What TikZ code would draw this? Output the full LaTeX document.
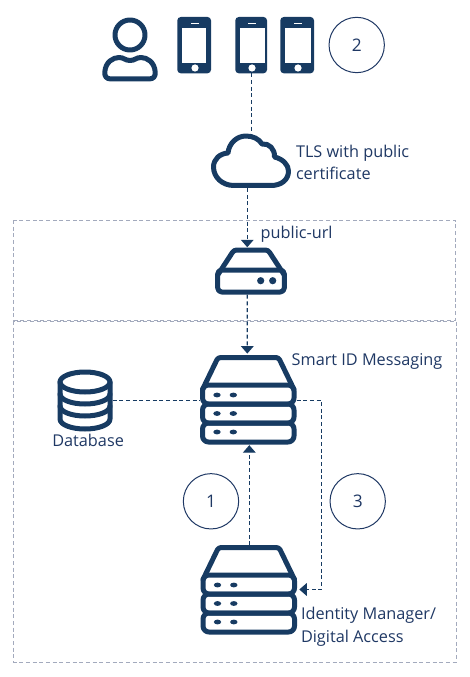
\documentclass[tikz,border=0pt]{standalone}
\usepackage{fontspec}
\setmainfont{Open Sans}
\usetikzlibrary{arrows.meta}
\definecolor{icon}{HTML}{173B62}
\definecolor{ink}{HTML}{1F3864}
\definecolor{framec}{HTML}{A3AABD}
\tikzset{
  iconline/.style={draw=icon,line width=3.75pt,line join=round,line cap=round},
  iconfill/.style={fill=icon,draw=none},
  conn/.style={draw=icon,line width=0.85pt,dash pattern=on 3pt off 2pt},
  tipped/.style={conn,-{Triangle[length=5.6pt,width=9.5pt]}},
  frameline/.style={draw=framec,line width=0.75pt,dash pattern=on 3pt off 2pt},
  iconbox/.style={inner sep=0pt,outer sep=0pt},
  numcircle/.style={draw=ink,line width=0.75pt,circle,minimum size=41.5pt,inner sep=0pt,text=ink,font=\fontsize{13pt}{15pt}\selectfont},
  label/.style={inner sep=0pt,outer sep=0pt,text=ink,anchor=base west,font=\fontsize{12.2pt}{16.9pt}\selectfont,align=left},
  server icon/.pic={
    \draw[iconline,rounded corners=2pt] (0,32)--(15.5,0)--(76,0)--(91.5,32);
    \draw[iconline,rounded corners=4.5pt] (0,27.5) rectangle (91.5,46.5);
    \draw[iconline,rounded corners=4.5pt] (0,46.5) rectangle (91.5,65.5);
    \draw[iconline,rounded corners=4.5pt] (0,65.5) rectangle (91.5,84.5);
    \foreach \yy in {37.5,56,74.5}{
      \fill[icon] (14.5,\yy) ellipse [x radius=3.7,y radius=2.4];
      \fill[icon] (30.8,\yy) ellipse [x radius=3.7,y radius=2.4];
    }
  },
  phone icon/.pic={
    \fill[icon,rounded corners=2.6pt] (0,0) rectangle (\pgfkeysvalueof{/tikz/phonew},56.3);
    \fill[white] (\pgfkeysvalueof{/tikz/phonesl},11.3) rectangle (\pgfkeysvalueof{/tikz/phonesr},45.7);
    \fill[white] (\pgfkeysvalueof{/tikz/phonec}-4,5.7) rectangle (\pgfkeysvalueof{/tikz/phonec}+4,7.2);
    \fill[white] (\pgfkeysvalueof{/tikz/phonec},51) circle [radius=3.6];
  },
  phonew/.initial=33.7,phonesl/.initial=5,phonesr/.initial=28.7,phonec/.initial=17.7,
}
\begin{document}
\begin{tikzpicture}[x=0.75pt,y=-0.75pt]
\useasboundingbox (0,0) rectangle (470,677);
% frames
\draw[frameline] (13.5,220) rectangle (455,320);
\draw[frameline] (13.5,321) rectangle (456,662);

% person
\node[iconbox,minimum width=42pt,minimum height=46pt] (person) at (130,49.5) {};
\draw[iconline] (130,35) circle [radius=15];
\draw[iconline] (111,79) .. controls (106,79) and (104.5,76) .. (104.8,72)
  .. controls (105.5,62) and (113,57.5) .. (119,57.5)
  .. controls (124,57.5) and (125,60.5) .. (130,60.5)
  .. controls (135,60.5) and (136,57.5) .. (141,57.5)
  .. controls (147,57.5) and (154.5,62) .. (155.2,72)
  .. controls (155.5,76) and (154,79) .. (149,79) -- cycle;

% phones
\node[iconbox,minimum width=25.3pt,minimum height=42.2pt] (phoneA) at (194.2,45.2) {};
\node[iconbox,minimum width=23.8pt,minimum height=42.2pt] (phoneB) at (251.7,45.2) {};
\node[iconbox,minimum width=25.3pt,minimum height=42.2pt] (phoneC) at (297.2,45.2) {};
\pic at (177.3,17) {phone icon};
\pic[phonew=31.7,phonesl=4.4,phonesr=29.4,phonec=16.7] at (235.3,17) {phone icon};
\pic[phonesl=5,phonesr=30.4,phonec=17.7] at (280.3,17) {phone icon};

% numbers
\node[numcircle] (two) at (356.7,45) {2};
\node[numcircle] (one) at (211,501.3) {1};
\node[numcircle] (three) at (357.7,501.3) {3};

% cloud
\node[iconbox,minimum width=60pt,minimum height=41.5pt] (cloud) at (251,160.5) {};
\draw[iconline] (234,185.5) .. controls (222,185.5) and (213.5,177) .. (213.5,167)
  .. controls (213.5,159) and (220,153.5) .. (228,153)
  .. controls (229,143) and (237,136) .. (246,136)
  .. controls (253,136) and (259,139) .. (262,144)
  .. controls (269,143) and (275,149) .. (274.5,157)
  .. controls (283,159) and (288.5,165) .. (288.5,171)
  .. controls (288.5,180) and (281,185.5) .. (271,185.5) -- cycle;

% gateway
\node[iconbox,minimum width=53pt,minimum height=35.6pt] (gateway) at (251,271) {};
\draw[iconline,rounded corners=2pt] (217.7,275)--(234,250)--(268,250)--(284.3,275);
\draw[iconline,rounded corners=3pt] (217.7,270) rectangle (284.3,292);
\fill[icon] (260.7,280.7) circle [radius=3.6];
\fill[icon] (272.7,280.7) circle [radius=3.6];

% servers
\node[iconbox,minimum width=72.5pt,minimum height=66.5pt] (server) at (248.3,399.5) {};
\node[iconbox,minimum width=72.5pt,minimum height=66.5pt] (im) at (248.7,589.5) {};
\pic at (202.5,357.5) {server icon};
\pic at (203,547.5) {server icon};

% database
\node[iconbox,minimum width=41.5pt,minimum height=47.5pt] (db) at (85,400.5) {};
\draw[iconline] (85,382) ellipse [x radius=25,y radius=10];
\draw[iconline] (60,382) -- (60,419) .. controls (60,425) and (72,429) .. (85,429)
  .. controls (98,429) and (110,425) .. (110,419) -- (110,382);
\draw[iconline] (60,394) .. controls (60,400) and (72,404) .. (85,404) .. controls (98,404) and (110,400) .. (110,394);
\draw[iconline] (60,406) .. controls (60,412) and (72,416) .. (85,416) .. controls (98,416) and (110,412) .. (110,406);

% labels
\node[label] (tls) at (296,180) {TLS with public\\certificate};
\node[label] (purl) at (260.7,238.3) {public-url};
\node[label] (msg) at (291.7,365) {Smart ID Messaging};
\node[label] (dbl) at (52.3,446.7) {Database};
\node[label] (iml) at (301,642) {Identity Manager/\\Digital Access};

% connectors
\coordinate (turn) at (321.7,400.5);
\draw[conn] (phoneB.south) -- (phoneB.south |- cloud.north);
\draw[tipped,shorten >=0pt] ([xshift=-2.8pt]cloud.south) -- ([xshift=-2.8pt]gateway.north);
\draw[tipped,shorten >=1.2pt] ([xshift=-2.8pt]gateway.south) -- ([xshift=-0.75pt]server.north);
\draw[tipped,shorten >=1pt] ([xshift=0.45pt]im.north) -- ([xshift=0.75pt]server.south);
\draw[conn] (db.east) -- (db.east -| server.west);
\draw[tipped,shorten >=1.7pt] (server.east |- turn) -- (turn) |- (im.east);
\end{tikzpicture}
\end{document}
